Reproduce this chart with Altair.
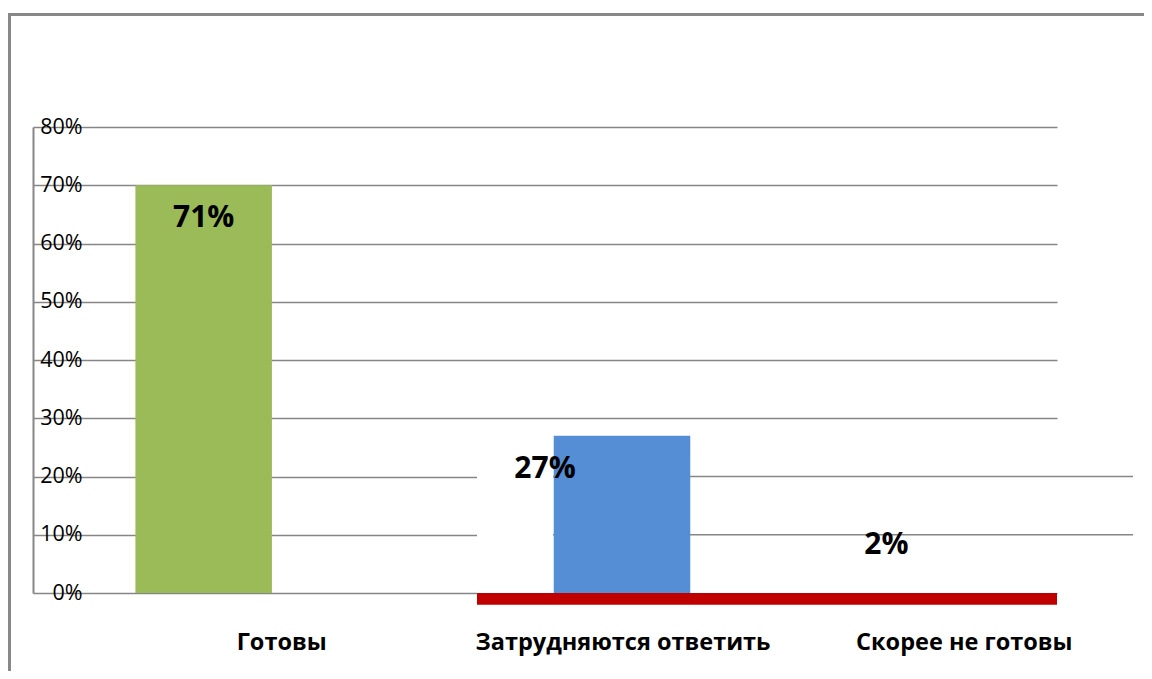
import altair as alt
import pandas as pd

categories = ["Готовы", "Затрудняются ответить", "Скорее не готовы"]
bar_values = [0.70, 0.27, 0.02]
value_labels = ["71%", "27%", "2%"]
bar_colors = ["#9BBB59", "#558ED5", "#C00000"]
y_ticks = [0.0, 0.1, 0.2, 0.3, 0.4, 0.5, 0.6, 0.7, 0.8]
overlay_grid = [0.1, 0.2]
overlay_top = [0.285]

W, H = 1024, 466
GRID = "#868686"

df = pd.DataFrame({"cat": categories, "value": bar_values,
                   "label": value_labels, "color": bar_colors})

xscale = alt.Scale(domain=categories, paddingInner=0.6, paddingOuter=0.3)
yscale = alt.Scale(domain=[0, 0.8], nice=False, zero=False)

x_axis = alt.Axis(title=None, domain=False, ticks=False, labelOffset=78,
                  labelPadding=37, labelFont="Open Sans", labelFontWeight="bold",
                  labelFontSize=23.5, labelColor="#000000", labelAngle=0,
                  labelLimit=500, grid=False)
y_axis = alt.Axis(title=None, values=y_ticks, format=".0%", ticks=False,
                  tickSize=0, labelAlign="right", labelPadding=-49,
                  labelFont="Open Sans", labelFontSize=21.5, labelColor="#000000",
                  labelBaseline="middle", domainColor=GRID, domainWidth=2,
                  grid=True, gridColor=GRID, gridWidth=1.5)

X = alt.X("cat:N", scale=xscale, axis=x_axis, sort=categories)
Y = alt.Y("value:Q", scale=yscale, axis=y_axis)

frame = alt.Chart(pd.DataFrame({"a": [0]})).mark_rect(
    filled=False, stroke="#888888", strokeWidth=3
).encode(x=alt.value(-23.5), x2=alt.value(1200), y=alt.value(-112.5), y2=alt.value(700))

green = alt.Chart(df).transform_filter(alt.datum.cat == categories[0]).mark_bar().encode(
    x=X, y=Y, y2=alt.datum(0), color=alt.Color("color:N", scale=None))

white = alt.Chart(pd.DataFrame({"value": overlay_top})).mark_rect(color="white").encode(
    x=alt.value(444), x2=alt.value(1100), y=Y, y2=alt.datum(0))

rules = alt.Chart(pd.DataFrame({"value": overlay_grid})).mark_rule(
    color=GRID, strokeWidth=1.5).encode(
    x=alt.value(520), x2=alt.value(1100), y=Y)

blue = alt.Chart(df).transform_filter(alt.datum.cat == categories[1]).mark_bar(xOffset=77).encode(
    x=X, y=Y, y2=alt.datum(0), color=alt.Color("color:N", scale=None))

red = alt.Chart(df).transform_filter(alt.datum.cat == categories[2]).transform_calculate(
    neg="-datum.value").mark_rect().encode(
    x=alt.value(444), x2=alt.value(1024),
    y=alt.Y("neg:Q", scale=yscale, axis=y_axis), y2=alt.datum(0),
    color=alt.Color("color:N", scale=None))

text_style = dict(font="Open Sans", fontWeight="bold", fontSize=30,
                  baseline="middle", color="#000000")
labels_in = alt.Chart(df).transform_filter(alt.datum.cat != categories[2]).mark_text(
    dy=33, **text_style).encode(x=X, y=Y, text="label:N")
labels_out = alt.Chart(df).transform_filter(alt.datum.cat == categories[2]).mark_text(
    dy=-36, **text_style).encode(x=X, y=Y, text="label:N")

chart = alt.layer(frame, green, white, rules, blue, red, labels_in, labels_out).properties(
    width=W, height=H,
    autosize=alt.AutoSizeParams(type="none"),
    padding={"left": 25, "top": 119, "right": 87, "bottom": 78},
    background="white",
).configure_view(stroke=None)

chart.save("out.html", embed_options={"renderer": "svg", "actions": False})
